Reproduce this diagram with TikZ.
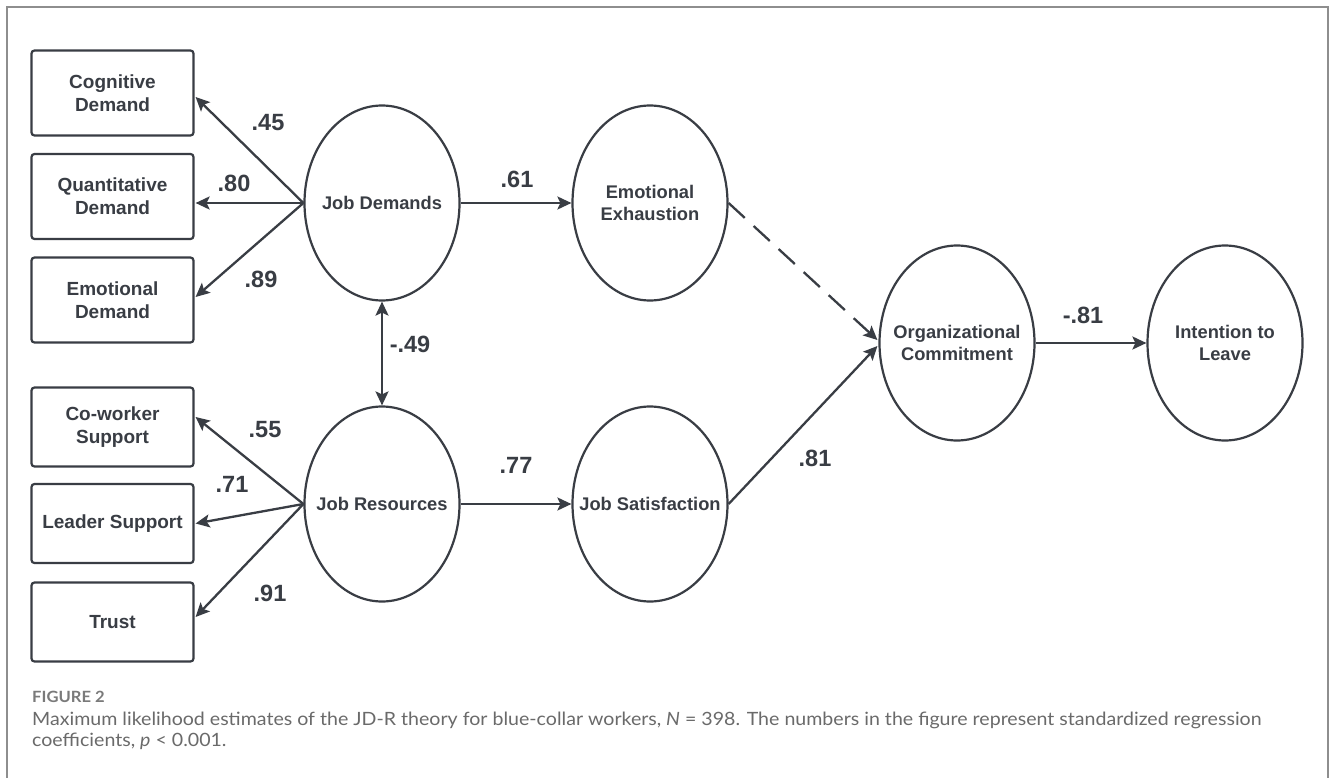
\documentclass[tikz,border=0pt]{standalone}
\usepackage{fontspec}
\setmainfont{Liberation Sans}
\newfontfamily\capfont{Lato}[FakeStretch=1.07]
\usetikzlibrary{arrows.meta,calc,shapes.geometric}
\definecolor{ink}{HTML}{393D44}
\definecolor{capgray}{HTML}{6A6A6A}
\definecolor{figgray}{HTML}{7A7A7A}
\definecolor{framegray}{HTML}{8E8E8E}
\begin{document}
\begin{tikzpicture}[x=1pt,y=-1pt,
  lat/.style={draw=ink,line width=2.2pt,ellipse,minimum width=155pt,minimum height=195pt,inner sep=0pt},
  lattext/.style={align=center,text=ink,inner sep=0pt,font=\fontsize{18.3}{22}\selectfont\bfseries},
  obs/.style={draw=ink,line width=2.2pt,rounded corners=3pt,minimum width=162pt,inner sep=0pt,align=center,text=ink,font=\fontsize{19}{23}\selectfont\bfseries},
  obsA/.style={obs,minimum height=85pt},
  obsB/.style={obs,minimum height=79pt},
  coef/.style={font=\fontsize{23.5}{26}\selectfont\bfseries,text=ink,inner sep=0pt},
  arr/.style={draw=ink,line width=2.3pt,-{Stealth[length=14pt,width=13pt,inset=3pt]}},
  dblarr/.style={draw=ink,line width=2.3pt,{Stealth[length=14pt,width=13pt,inset=3pt]}-{Stealth[length=14pt,width=13pt,inset=3pt]}},
  captext/.style={anchor=base west,inner sep=0pt,text=capgray,font=\capfont\fontsize{18.3}{21}\selectfont}
]
\useasboundingbox (0,0) rectangle (1332,778);
\fill[white] (0,0) rectangle (1332,778);
\draw[framegray,line width=2pt] (7,800) -- (7,7) -- (1328,7) -- (1328,800);

% observed indicators
\node[obsA] (cog) at (112.5,93) {Cognitive\\Demand};
\node[obsA] (quant) at (112.5,196.5) {Quantitative\\Demand};
\node[obsA] (emo) at (112.5,300) {Emotional\\Demand};
\node[obsB] (cow) at (112.5,427) {Co-worker\\Support};
\node[obsB] (lead) at (112.5,523.5) {Leader Support};
\node[obsB] (trust) at (112.5,622) {Trust};

% latent variables
\node[lat,label={[lattext]center:Job Demands}] (JD) at (382,203) {};
\node[lat,label={[lattext]center:Job Resources}] (JR) at (382,504) {};
\node[lat,label={[lattext]center:Emotional\\Exhaustion}] (EE) at (650,203) {};
\node[lat,label={[lattext]center:Job Satisfaction}] (JS) at (650,504) {};
\node[lat,label={[lattext]center:Organizational\\Commitment}] (OC) at (957,343) {};
\node[lat,label={[lattext]center:Intention to\\Leave}] (IL) at (1225,343) {};

% loadings
\draw[arr] (JD.west) -- ($(cog.east)+(1,4)$);
\draw[arr] (JD.west) -- ($(quant.east)+(1,6.5)$);
\draw[arr] (JD.west) -- ($(emo.east)+(1,-3)$);
\draw[arr] (JR.west) -- ($(cow.east)+(1,-10)$);
\draw[arr] (JR.west) -- ($(lead.east)+(1,0)$);
\draw[arr] (JR.west) -- ($(trust.east)+(1,-5)$);

% structural paths
\draw[dblarr] (JD.south) -- (JR.north);
\draw[arr] (JD.east) -- (EE.west);
\draw[arr] (JR.east) -- (JS.west);
\draw[arr,dash pattern=on 22pt off 12pt] (EE.east) -- ($(OC.west)+(-1,-3)$);
\draw[arr] (JS.east) -- ($(OC.west)+(-1,3)$);
\draw[arr] (OC.east) -- (IL.west);

% coefficients
\node[coef] (c45) at (268,123) {.45};
\node[coef] (c80) at (234,183) {.80};
\node[coef] (c89) at (261,279) {.89};
\node[coef] (c55) at (265,430) {.55};
\node[coef] (c71) at (232,484) {.71};
\node[coef] (c91) at (270,593) {.91};
\node[coef] (c49) at (410,344) {-.49};
\node[coef] (c61) at (517,179) {.61};
\node[coef] (c77) at (516,465) {.77};
\node[coef] (c81) at (815,458) {.81};
\node[coef] (cm81) at (1083,315) {-.81};

% caption
\node[anchor=base west,inner sep=0pt,text=figgray,font=\capfont\bfseries\fontsize{15.5}{18}\selectfont] (fig) at (32,702) {FIGURE 2};
\node[captext] (cap1) at (32,725) {Maximum likelihood estimates of the JD-R theory for blue-collar workers, \textit{N} = 398. The numbers in the figure represent standardized regression};
\node[captext] (cap2) at (32,746) {coefficients, \textit{p} < 0.001.};
\end{tikzpicture}
\end{document}
